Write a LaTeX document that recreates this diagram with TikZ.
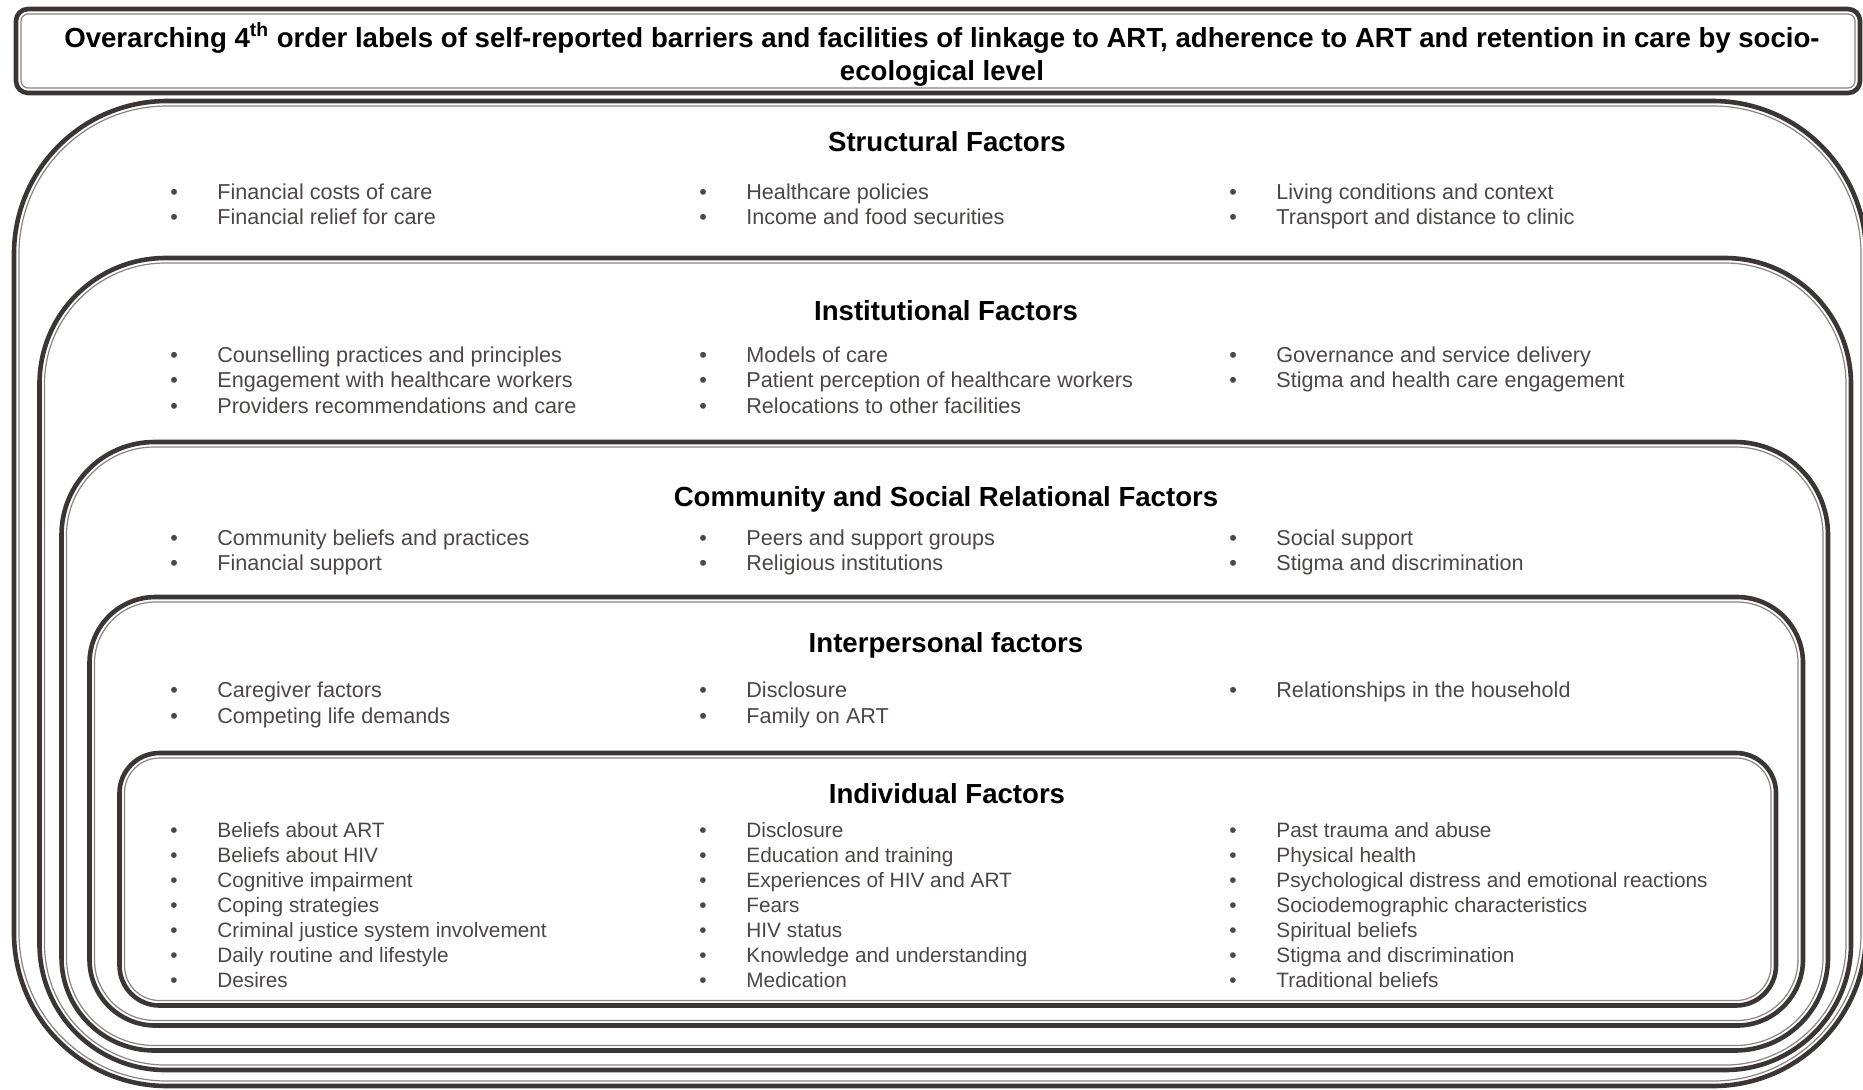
\documentclass[tikz,border=0pt]{standalone}
\usepackage{fontspec}
\setmainfont{Liberation Sans}
\definecolor{rimdark}{HTML}{3B3634}
\definecolor{rimlight}{HTML}{8A8482}
\definecolor{itemgrey}{HTML}{4D4644}
\newcommand{\bul}{\textbullet&}
\newcommand{\factorlist}[1]{\begin{tabular}[t]{@{}p{23.5pt}@{}l@{}}#1\end{tabular}}
\tikzset{
  rimouter/.style={draw=rimdark, line width=2.3pt},
  riminner/.style={draw=rimlight, line width=0.6pt},
  heading/.style={anchor=base, inner sep=0pt, font=\fontsize{13.8pt}{16.5pt}\selectfont\bfseries},
  itemlist/.style={anchor=base west, inner sep=0pt, text=itemgrey, font=\fontsize{10.8pt}{#1}\selectfont},
  itemlist/.default=12.9pt,
  smallitemlist/.style={anchor=base west, inner sep=0pt, text=itemgrey, font=\fontsize{10.4pt}{12.55pt}\selectfont}
}
\begin{document}
\begin{tikzpicture}[x=0.5pt, y=-0.5pt]
\path[use as bounding box, fill=white] (0,0) rectangle (1863,1089);
\draw[rimouter, rounded corners=6pt] (16,9) rectangle (1860,93);
\draw[riminner, rounded corners=3.5pt] (21,14) rectangle (1855,88);
\draw[rimouter, rounded corners=76.5pt] (14,101) rectangle (1866,1086);
\draw[riminner, rounded corners=74pt] (19,106) rectangle (1861,1081);
\draw[rimouter, rounded corners=63pt] (39.5,258) rectangle (1851,1070);
\draw[riminner, rounded corners=60.5pt] (44.5,263) rectangle (1846,1065);
\draw[rimouter, rounded corners=46.5pt] (61.5,442) rectangle (1828,1050.5);
\draw[riminner, rounded corners=44pt] (66.5,447) rectangle (1823,1045.5);
\draw[rimouter, rounded corners=33pt] (89.5,597) rectangle (1803,1025.5);
\draw[riminner, rounded corners=30.5pt] (94.5,602) rectangle (1798,1020.5);
\draw[rimouter, rounded corners=20pt] (119.5,753) rectangle (1776,1005.5);
\draw[riminner, rounded corners=17.5pt] (124.5,758) rectangle (1771,1000.5);

\node[heading] (title) at (942,47) {\begin{tabular}[t]{@{}c@{}}Overarching 4\textsuperscript{th} order labels of self-reported barriers and facilities of linkage to ART, adherence to ART and retention in care by socio-\\ecological level\end{tabular}};

\node[heading] (strhead) at (947,151) {Structural Factors};
\node[itemlist] (str1) at (170,199) {\factorlist{\bul Financial costs of care\\ \bul Financial relief for care}};
\node[itemlist] (str2) at (699,199) {\factorlist{\bul Healthcare policies\\ \bul Income and food securities}};
\node[itemlist] (str3) at (1229,199) {\factorlist{\bul Living conditions and context\\ \bul Transport and distance to clinic}};

\node[heading] (insthead) at (946,320) {Institutional Factors};
\node[itemlist] (inst1) at (170,362) {\factorlist{\bul Counselling practices and principles\\ \bul Engagement with healthcare workers\\ \bul Providers recommendations and care}};
\node[itemlist] (inst2) at (699,362) {\factorlist{\bul Models of care\\ \bul Patient perception of healthcare workers\\ \bul Relocations to other facilities}};
\node[itemlist] (inst3) at (1229,362) {\factorlist{\bul Governance and service delivery\\ \bul Stigma and health care engagement}};

\node[heading] (commhead) at (946,506) {Community and Social Relational Factors};
\node[itemlist] (comm1) at (170,545) {\factorlist{\bul Community beliefs and practices\\ \bul Financial support}};
\node[itemlist] (comm2) at (699,545) {\factorlist{\bul Peers and support groups\\ \bul Religious institutions}};
\node[itemlist] (comm3) at (1229,545) {\factorlist{\bul Social support\\ \bul Stigma and discrimination}};

\node[heading] (interhead) at (946,652) {Interpersonal factors};
\node[itemlist=13.1pt] (inter1) at (170,697) {\factorlist{\bul Caregiver factors\\ \bul Competing life demands}};
\node[itemlist=13.1pt] (inter2) at (699,697) {\factorlist{\bul Disclosure\\ \bul Family on ART}};
\node[itemlist=13.1pt] (inter3) at (1229,697) {\factorlist{\bul Relationships in the household}};

\node[heading] (indhead) at (947,803) {Individual Factors};
\node[smallitemlist] (ind1) at (170,837) {\factorlist{\bul Beliefs about ART\\ \bul Beliefs about HIV\\ \bul Cognitive impairment\\ \bul Coping strategies\\ \bul Criminal justice system involvement\\ \bul Daily routine and lifestyle\\ \bul Desires}};
\node[smallitemlist] (ind2) at (699,837) {\factorlist{\bul Disclosure\\ \bul Education and training\\ \bul Experiences of HIV and ART\\ \bul Fears\\ \bul HIV status\\ \bul Knowledge and understanding\\ \bul Medication}};
\node[smallitemlist] (ind3) at (1229,837) {\factorlist{\bul Past trauma and abuse\\ \bul Physical health\\ \bul Psychological distress and emotional reactions\\ \bul Sociodemographic characteristics\\ \bul Spiritual beliefs\\ \bul Stigma and discrimination\\ \bul Traditional beliefs}};
\end{tikzpicture}
\end{document}
